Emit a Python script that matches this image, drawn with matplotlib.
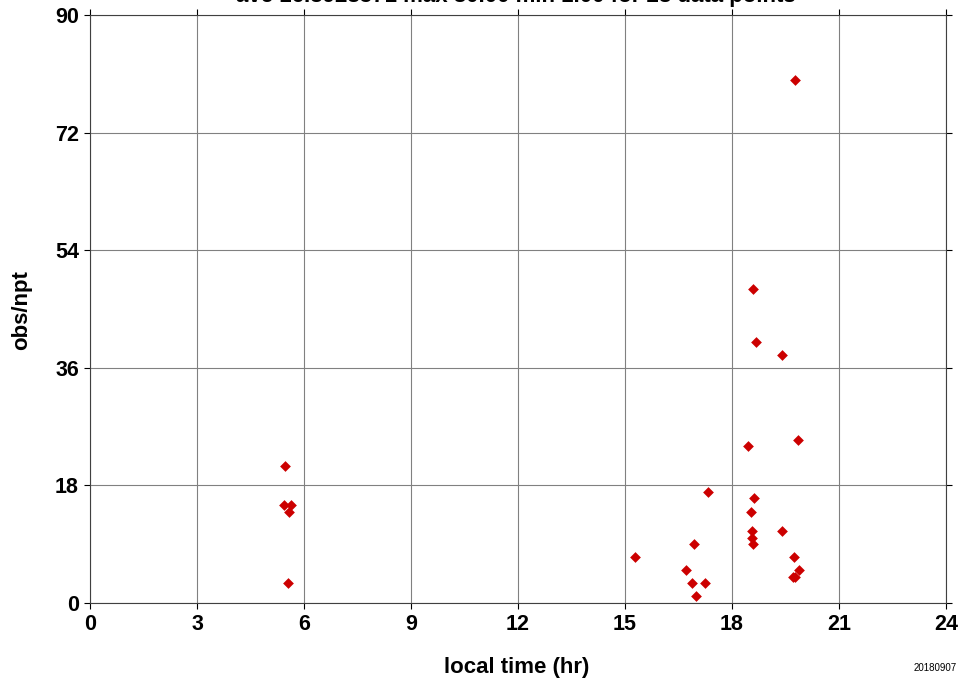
import numpy as np
import matplotlib.pyplot as plt

plt.rcParams['font.family'] = ['Liberation Sans', 'DejaVu Sans']

# local time (hr) and obs/npt
hours = [5.47, 5.43, 5.64, 5.57, 5.55,
         15.28, 16.72, 16.93, 16.89, 17.25, 17.0, 17.34, 18.46, 19.84,
         18.63, 18.53, 18.56, 18.55, 18.59, 19.39, 19.73, 19.87, 19.72, 19.76,
         19.78, 18.6, 18.67, 19.41]
obs = [21, 15, 15, 14, 3,
       7, 5, 9, 3, 3, 1, 17, 24, 25,
       16, 14, 11, 10, 9, 11, 7, 5, 4, 4,
       80, 48, 40, 38]
xticks = np.arange(0, 25, 3)
yticks = np.arange(0, 91, 18)

obs_arr = np.array(obs)
title = 'ave %.7f max %.2f min %.2f for %d data points' % (
    obs_arr.mean(), obs_arr.max(), obs_arr.min(), len(obs_arr))

fig = plt.figure(figsize=(9.58, 6.82), dpi=100)
ax = fig.add_axes([90/958, 79/682, 856/958, 588/682])

ax.scatter(hours, obs, marker='D', s=30, color='#cc0000', zorder=3, linewidths=0)

ax.set_xlim(0, 24)
ax.set_ylim(0, 90)
ax.set_xticks(xticks)
ax.set_yticks(yticks)
ax.grid(True, color='#808080', linewidth=0.8)
ax.tick_params(direction='out', length=4, width=0.8, top=True, right=True,
               labeltop=False, labelright=False, labelsize=15.5, pad=4)
for lbl in ax.get_xticklabels() + ax.get_yticklabels():
    lbl.set_fontweight('bold')
for sp in ax.spines.values():
    sp.set_linewidth(0.8)
    sp.set_color('#404040')

# axis labels placed like the GMT original
fig.text(517/958, 1 - 667/682, 'local time (hr)', ha='center', va='center',
         fontsize=16, fontweight='bold')
fig.text(22/958, 1 - 310/682, 'obs/npt', ha='center', va='center',
         rotation=90, fontsize=16, fontweight='bold')
# title runs off the top edge in the original, only its lower part shows
fig.text(516/958, 1 - 2/682, title, ha='center', va='baseline',
         fontsize=16, fontweight='bold')
fig.text(935/958, 1 - 668/682, '20180907', ha='center', va='center', fontsize=7)

fig.savefig('out.png', dpi=100)
